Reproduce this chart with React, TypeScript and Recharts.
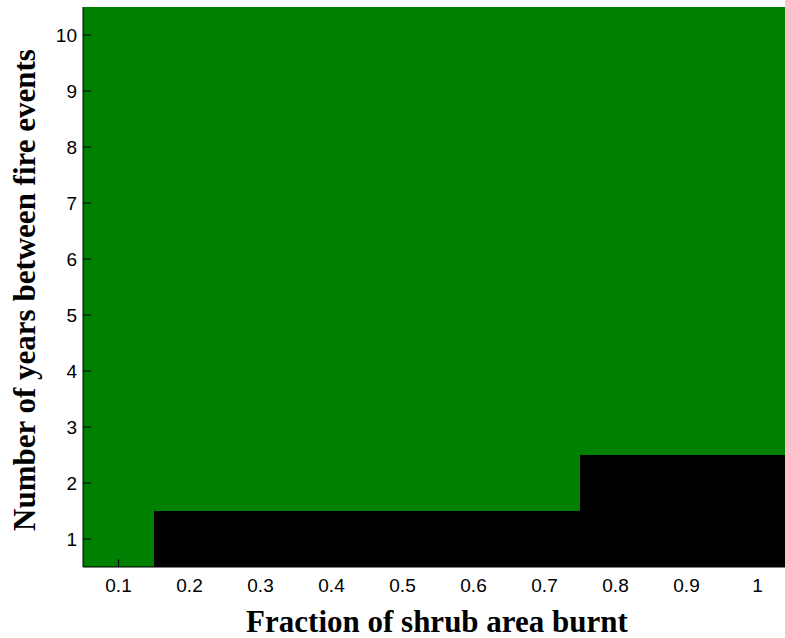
import React from "react";
import { BarChart, Bar, XAxis, YAxis, Cell, Label } from "recharts";

// shrub fraction burnt (x categories)
const fractionLabels = ["0.1", "0.2", "0.3", "0.4", "0.5", "0.6", "0.7", "0.8", "0.9", "1"];
// years between fire events (y rows)
const yearTicks = [1, 2, 3, 4, 5, 6, 7, 8, 9, 10];
// outcome per year (row) and fraction (column): 1 = black region, 0 = green region
const outcomeYear1 = [0, 1, 1, 1, 1, 1, 1, 1, 1, 1];
const outcomeYear2 = [0, 0, 0, 0, 0, 0, 0, 1, 1, 1];
const outcomeOther = [0, 0, 0, 0, 0, 0, 0, 0, 0, 0];
const outcomes = [
  outcomeYear1,
  outcomeYear2,
  outcomeOther,
  outcomeOther,
  outcomeOther,
  outcomeOther,
  outcomeOther,
  outcomeOther,
  outcomeOther,
  outcomeOther,
];

const GREEN = "#008000";
const BLACK = "#000000";
const PLOT_BOTTOM = 567;
const PLOT_LEFT = 83;

const data = fractionLabels.map((label) => {
  const row: Record<string, string | number> = { fraction: label, base: yearTicks[0] - 0.5 };
  yearTicks.forEach((y) => {
    row[`y${y}`] = 1;
  });
  return row;
});

const XTick = (props: any) => {
  const { x, payload } = props;
  return (
    <g>
      <line x1={x} x2={x} y1={PLOT_BOTTOM} y2={PLOT_BOTTOM - 8} stroke="#000" />
      <text
        x={x}
        y={592}
        textAnchor="middle"
        fontFamily="'Liberation Sans', Arial, sans-serif"
        fontSize={19}
        fill="#000"
      >
        {payload.value}
      </text>
    </g>
  );
};

const YTick = (props: any) => {
  const { y, payload } = props;
  return (
    <g>
      <line x1={PLOT_LEFT} x2={PLOT_LEFT + 8} y1={y} y2={y} stroke="#000" />
      <text
        x={77}
        y={y + 7}
        textAnchor="end"
        fontFamily="'Liberation Sans', Arial, sans-serif"
        fontSize={19}
        fill="#000"
      >
        {payload.value}
      </text>
    </g>
  );
};

const titleStyle = {
  fontFamily: "'Liberation Serif', 'Times New Roman', serif",
  fontWeight: "bold" as const,
  fontSize: 31,
  fill: "#000",
};

export default function App() {
  return (
    <div
      style={{
        position: "absolute",
        left: 0,
        top: 0,
        width: 785,
        height: 638,
        overflow: "hidden",
        background: "#fff",
      }}
    >
      <BarChart
        width={800}
        height={638}
        data={data}
        margin={{ top: 7, right: 7, bottom: 0, left: 0 }}
        barCategoryGap={0}
        barGap={0}
      >
        <Bar dataKey="base" stackId="s" fill="none" isAnimationActive={false} />
        {yearTicks.map((y, yi) => (
          <Bar key={y} dataKey={`y${y}`} stackId="s" isAnimationActive={false}>
            {fractionLabels.map((f, fi) => (
              <Cell key={f} fill={outcomes[yi][fi] ? BLACK : GREEN} />
            ))}
          </Bar>
        ))}
        <XAxis
          dataKey="fraction"
          type="category"
          height={71}
          tickSize={0}
          tickMargin={0}
          tick={<XTick />}
          axisLine={{ stroke: "#000" }}
          interval={0}
        >
          <Label
            content={() => (
              <text x={437} y={632} textAnchor="middle" {...titleStyle}>
                Fraction of shrub area burnt
              </text>
            )}
          />
        </XAxis>
        <YAxis
          type="number"
          domain={[0.5, 10.5]}
          ticks={yearTicks}
          allowDataOverflow
          width={83}
          tickSize={0}
          tickMargin={0}
          tick={<YTick />}
          axisLine={{ stroke: "#000" }}
          interval={0}
        >
          <Label
            content={() => (
              <text
                x={35}
                y={290}
                textAnchor="middle"
                transform="rotate(-90, 35, 290)"
                {...titleStyle}
              >
                Number of years between fire events
              </text>
            )}
          />
        </YAxis>
      </BarChart>
    </div>
  );
}
